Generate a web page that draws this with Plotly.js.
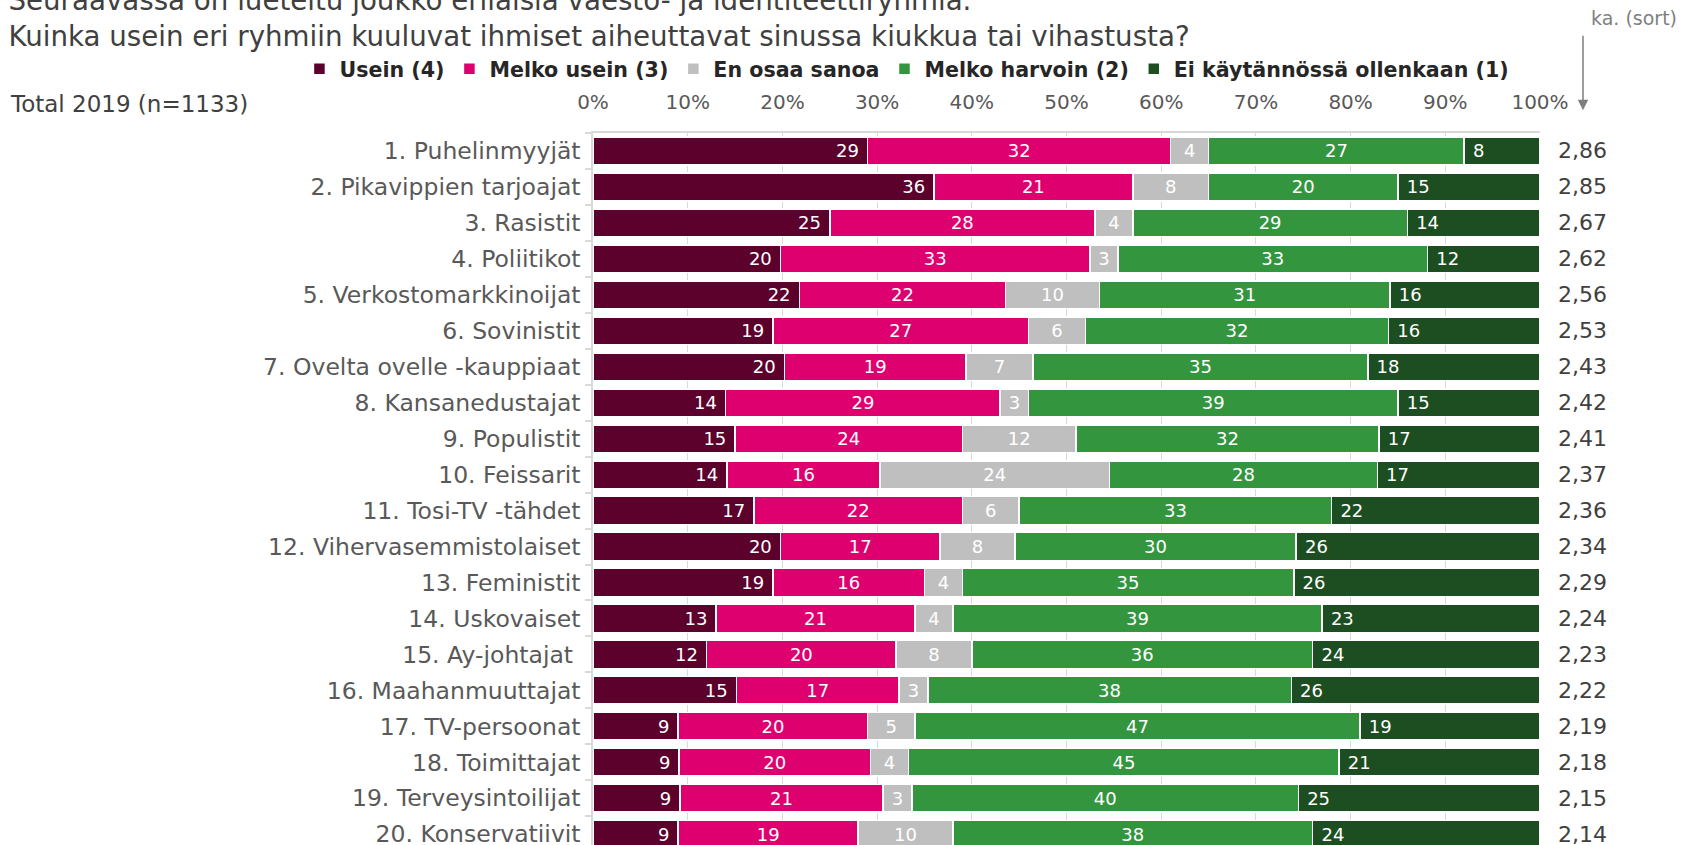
<!DOCTYPE html>
<html>
<head>
<meta charset="utf-8">
<script src="https://cdn.plot.ly/plotly-3.0.1.min.js"></script>
<style>
  html, body { margin: 0; padding: 0; background: #ffffff; overflow: hidden; }
  #chart { width: 1683px; height: 845px; }
</style>
</head>
<body>
<div id="chart"></div>
<script>
// ---- Data ----
const categories = [
  "1. Puhelinmyyjät", "2. Pikavippien tarjoajat", "3. Rasistit", "4. Poliitikot",
  "5. Verkostomarkkinoijat", "6. Sovinistit", "7. Ovelta ovelle -kauppiaat",
  "8. Kansanedustajat", "9. Populistit", "10. Feissarit", "11. Tosi-TV -tähdet",
  "12. Vihervasemmistolaiset", "13. Feministit", "14. Uskovaiset", "15. Ay-johtajat\u00a0",
  "16. Maahanmuuttajat", "17. TV-persoonat", "18. Toimittajat", "19. Terveysintoilijat",
  "20. Konservatiivit"
];
const seriesNames = ["Usein (4)", "Melko usein (3)", "En osaa sanoa", "Melko harvoin (2)", "Ei käytännössä ollenkaan (1)"];
const usein        = [29, 36, 25, 20, 22, 19, 20, 14, 15, 14, 17, 20, 19, 13, 12, 15, 9, 9, 9, 9];
const melkoUsein   = [32, 21, 28, 33, 22, 27, 19, 29, 24, 16, 22, 17, 16, 21, 20, 17, 20, 20, 21, 19];
const enOsaa       = [4, 8, 4, 3, 10, 6, 7, 3, 12, 24, 6, 8, 4, 4, 8, 3, 5, 4, 3, 10];
const melkoHarvoin = [27, 20, 29, 33, 31, 32, 35, 39, 32, 28, 33, 30, 35, 39, 36, 38, 47, 45, 40, 38];
const eiLainkaan   = [8, 15, 14, 12, 16, 16, 18, 15, 17, 17, 22, 26, 26, 23, 24, 26, 19, 21, 25, 24];
const averages     = [2.86, 2.85, 2.67, 2.62, 2.56, 2.53, 2.43, 2.42, 2.41, 2.37, 2.36, 2.34, 2.29, 2.24, 2.23, 2.22, 2.19, 2.18, 2.15, 2.14];
const xTicks       = [0, 10, 20, 30, 40, 50, 60, 70, 80, 90, 100];

// ---- Styles ----
const colors = ["#5c002c", "#df006f", "#bfbfbf", "#33963f", "#1c4e21"];
const anchors = ["end", "middle", "middle", "middle", "start"];
const FONT = "DejaVu Sans, Verdana, sans-serif";
const NB = "\u00a0";

const seriesValues = [usein, melkoUsein, enOsaa, melkoHarvoin, eiLainkaan];
const traces = seriesValues.map((vals, i) => ({
  type: "bar",
  orientation: "h",
  name: seriesNames[i],
  y: categories,
  x: vals,
  text: vals.map(v => anchors[i] === "end" ? String(v) + NB : anchors[i] === "start" ? NB + String(v) : String(v)),
  textposition: "inside",
  insidetextanchor: anchors[i],
  textfont: { family: FONT, size: 18, color: "#ffffff" },
  marker: { color: colors[i], line: { color: "#ffffff", width: 1.5 } },
  hoverinfo: "name+x"
}));

const annotations = [];
averages.forEach((v, i) => {
  annotations.push({
    xref: "paper", yref: "y", x: 1.0454, y: categories[i],
    text: v.toFixed(2).replace(".", ","), showarrow: false,
    xanchor: "center", yanchor: "middle",
    font: { family: FONT, size: 22, color: "#404040" }
  });
});
annotations.push({
  xref: "paper", yref: "paper", x: -0.6177, y: 1.0407,
  text: "Total 2019 (n=1133)", showarrow: false, xanchor: "left", yanchor: "middle",
  font: { family: FONT, size: 23, color: "#404040" }
});
annotations.push({
  xref: "paper", yref: "paper", x: 1.0993, y: 1.1615,
  text: "ka. (sort)", showarrow: false, xanchor: "center", yanchor: "middle",
  font: { family: FONT, size: 19, color: "#7f7f7f" }
});
annotations.push({
  xref: "paper", yref: "paper", x: 1.0454, y: 1.032,
  text: "", showarrow: true, ax: 0, ay: -76, arrowhead: 2, arrowsize: 1.4,
  arrowwidth: 1.5, arrowcolor: "#7f7f7f", standoff: 0
});

const layout = {
  width: 1683, height: 845,
  margin: { l: 593, r: 143, t: 133, b: 0, pad: 0 },
  paper_bgcolor: "#ffffff", plot_bgcolor: "#ffffff",
  font: { family: FONT, color: "#404040" },
  barmode: "stack", barnorm: "percent", bargap: 0.23,
  uniformtext: { mode: "show", minsize: 18 },
  title: {
    text: "Seuraavassa on lueteltu joukko erilaisia väestö- ja identiteettiryhmiä.<br>Kuinka usein eri ryhmiin kuuluvat ihmiset aiheuttavat sinussa kiukkua tai vihastusta?",
    xref: "container", yref: "container", x: 0.005, xanchor: "left",
    y: 0.988, yanchor: "bottom",
    font: { family: FONT, size: 27.7, color: "#404040" }
  },
  showlegend: true,
  legend: {
    orientation: "h", x: -0.31, xanchor: "left", y: 1.09, yanchor: "middle",
    xref: "paper", yref: "paper",
    font: { family: FONT, size: 20.6, color: "#262626", weight: "bold" },
    itemwidth: 30, traceorder: "normal", bgcolor: "rgba(0,0,0,0)"
  },
  xaxis: {
    side: "top", range: [0, 100], tickmode: "array", tickvals: xTicks,
    ticktext: xTicks.map(v => v + "%"),
    tickfont: { family: FONT, size: 20, color: "#595959" },
    showgrid: true, gridcolor: "#d9d9d9", gridwidth: 1,
    showline: true, linecolor: "#d9d9d9", linewidth: 1.5,
    zeroline: false, ticks: "", ticklabelstandoff: 14, automargin: false, fixedrange: true
  },
  yaxis: {
    type: "category", range: [19.3, -0.5],
    tickson: "boundaries", ticks: "outside", ticklen: 6, tickcolor: "#d9d9d9", tickwidth: 1.5,
    showline: true, linecolor: "#d9d9d9", linewidth: 1.5, showgrid: false,
    tickfont: { family: FONT, size: 23.5, color: "#595959" },
    ticklabelstandoff: 6, automargin: false, fixedrange: true
  },
  annotations: annotations
};

Plotly.newPlot("chart", traces, layout, { displayModeBar: false });
</script>
</body>
</html>
